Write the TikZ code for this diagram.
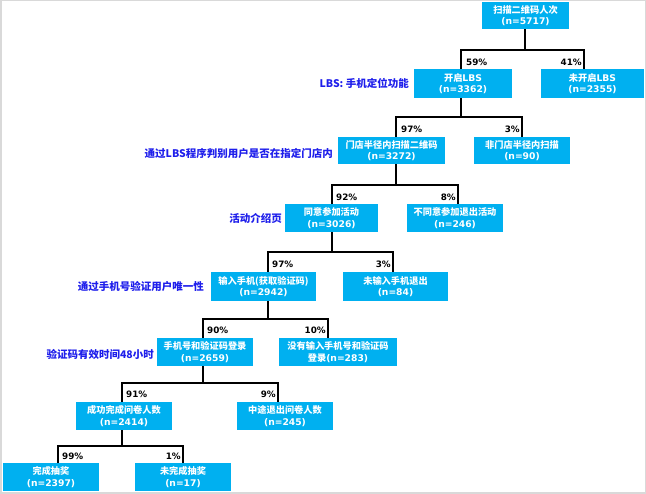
\documentclass[tikz,border=0pt]{standalone}
\usepackage{fontspec}
\setmainfont{Noto Sans CJK SC}
\newfontfamily\latfont{DejaVu Sans}
\newcommand\latn[1]{{\latfont #1}}
\definecolor{boxblue}{HTML}{00B0F0}
\definecolor{lblblue}{RGB}{30,30,235}
\definecolor{framegray}{HTML}{D9D9D9}
\begin{document}
\begin{tikzpicture}[x=1pt,y=-1pt,
  box/.style={fill=boxblue, text=white, align=center, inner sep=0pt, font=\bfseries\fontsize{9.2}{11.5}\selectfont},
  pct/.style={font=\latfont\bfseries\fontsize{8.8}{10}\selectfont, inner sep=1pt},
  note/.style={text=lblblue, font=\bfseries\fontsize{10.5}{12}\selectfont, anchor=east, inner sep=0pt},
  link/.style={line width=1.4pt, black}]
\useasboundingbox (0,0) rectangle (646,494);
\draw[framegray, line width=1.5pt] (0.75,0.75) rectangle (645.25,493.25);

% boxes
\node[box, minimum width=87pt, minimum height=27pt] (A) at (525.5,15.5) {扫描二维码人次\\\latn{(n=5717)}};
\node[box, minimum width=98pt, minimum height=29pt] (B) at (463,83.5) {开启\latn{LBS}\\\latn{(n=3362)}};
\node[box, minimum width=103pt, minimum height=29pt] (C) at (592.5,83.5) {未开启\latn{LBS}\\\latn{(n=2355)}};
\node[box, minimum width=107pt, minimum height=27pt] (D) at (391.5,150.5) {门店半径内扫描二维码\\\latn{(n=3272)}};
\node[box, minimum width=96pt, minimum height=27pt] (E) at (522,150.5) {非门店半径内扫描\\\latn{(n=90)}};
\node[box, minimum width=93pt, minimum height=28pt] (F) at (331.5,218) {同意参加活动\\\latn{(n=3026)}};
\node[box, minimum width=96pt, minimum height=28pt] (G) at (455,218) {不同意参加退出活动\\\latn{(n=246)}};
\node[box, minimum width=105pt, minimum height=29pt] (H) at (263.5,286.5) {输入手机(获取验证码)\\\latn{(n=2942)}};
\node[box, minimum width=105pt, minimum height=29pt] (I) at (395.5,286.5) {未输入手机退出\\\latn{(n=84)}};
\node[box, minimum width=96pt, minimum height=28pt] (J) at (205,352) {手机号和验证码登录\\\latn{(n=2659)}};
\node[box, minimum width=118pt, minimum height=28pt] (K) at (338,352) {没有输入手机号和验证码\\登录\latn{(n=283)}};
\node[box, minimum width=96pt, minimum height=28pt] (L) at (124,416) {成功完成问卷人数\\\latn{(n=2414)}};
\node[box, minimum width=96pt, minimum height=28pt] (M) at (285,416) {中途退出问卷人数\\\latn{(n=245)}};
\node[box, minimum width=96pt, minimum height=28pt] (N) at (51,477) {完成抽奖\\\latn{(n=2397)}};
\node[box, minimum width=96pt, minimum height=28pt] (O) at (183,477) {未完成抽奖\\\latn{(n=17)}};

% junctions
\coordinate (p1) at (525,50);  \coordinate (l1) at (461,50);  \coordinate (r1) at (584,50);
\coordinate (p2) at (461,117); \coordinate (l2) at (396,117); \coordinate (r2) at (522,117);
\coordinate (p3) at (396,185); \coordinate (l3) at (332,185); \coordinate (r3) at (458,185);
\coordinate (p4) at (332,252); \coordinate (l4) at (268,252); \coordinate (r4) at (393,252);
\coordinate (p5) at (268,319); \coordinate (l5) at (203,319); \coordinate (r5) at (328,319);
\coordinate (p6) at (203,383); \coordinate (l6) at (122,383); \coordinate (r6) at (278,383);
\coordinate (p7) at (122,446); \coordinate (l7) at (58,446);  \coordinate (r7) at (183,446);

\draw[link] (A.south -| p1) -- (p1);
\draw[link] (B.north -| l1) -- (l1) -- (r1) -- (C.north -| r1);
\draw[link] (B.south -| p2) -- (p2);
\draw[link] (D.north -| l2) -- (l2) -- (r2) -- (E.north -| r2);
\draw[link] (D.south -| p3) -- (p3);
\draw[link] (F.north -| l3) -- (l3) -- (r3) -- (G.north -| r3);
\draw[link] (F.south -| p4) -- (p4);
\draw[link] (H.north -| l4) -- (l4) -- (r4) -- (I.north -| r4);
\draw[link] (H.south -| p5) -- (p5);
\draw[link] (J.north -| l5) -- (l5) -- (r5) -- (K.north -| r5);
\draw[link] (J.south -| p6) -- (p6);
\draw[link] (L.north -| l6) -- (l6) -- (r6) -- (M.north -| r6);
\draw[link] (L.south -| p7) -- (p7);
\draw[link] (N.north -| l7) -- (l7) -- (r7) -- (O.north -| r7);

% percentages
\node[pct, anchor=west] (q1l) at (465,62) {59\%};
\node[pct, anchor=east] (q1r) at (583,62) {41\%};
\node[pct, anchor=west] (q2l) at (400,129) {97\%};
\node[pct, anchor=east] (q2r) at (521,129) {3\%};
\node[pct, anchor=west] (q3l) at (335,197) {92\%};
\node[pct, anchor=east] (q3r) at (457,197) {8\%};
\node[pct, anchor=west] (q4l) at (271,264) {97\%};
\node[pct, anchor=east] (q4r) at (392,264) {3\%};
\node[pct, anchor=west] (q5l) at (206,330) {90\%};
\node[pct, anchor=east] (q5r) at (327,330) {10\%};
\node[pct, anchor=west] (q6l) at (125,394) {91\%};
\node[pct, anchor=east] (q6r) at (277,394) {9\%};
\node[pct, anchor=west] (q7l) at (61,456) {99\%};
\node[pct, anchor=east] (q7r) at (182,456) {1\%};

% side notes
\node[note] (n1) at (409,83) {LBS: 手机定位功能};
\node[note] (n2) at (333,153) {通过LBS程序判别用户是否在指定门店内};
\node[note] (n3) at (282,218) {活动介绍页};
\node[note] (n4) at (204,286) {通过手机号验证用户唯一性};
\node[note] (n5) at (154,354) {验证码有效时间48小时};
\end{tikzpicture}
\end{document}
